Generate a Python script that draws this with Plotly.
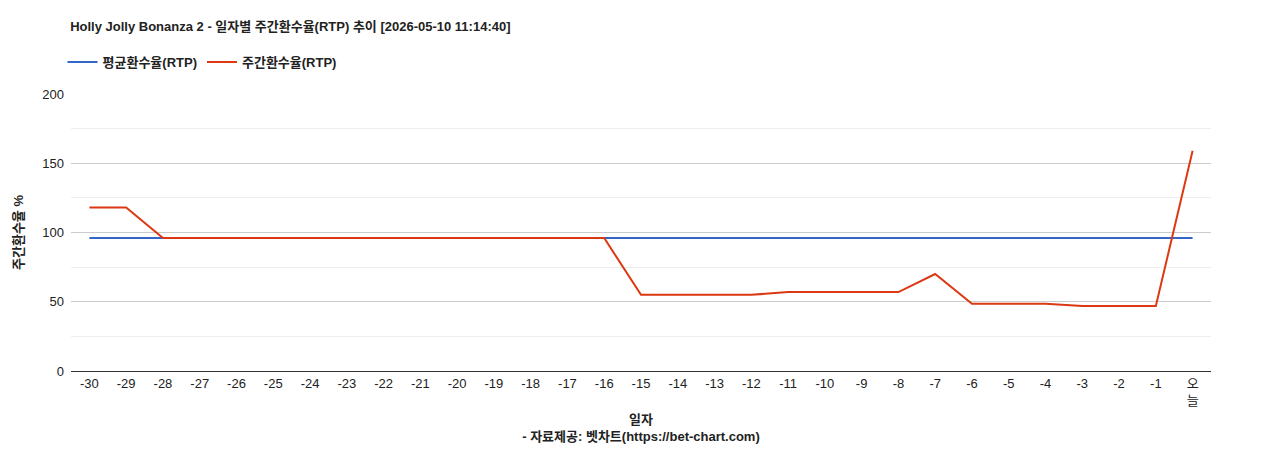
import plotly.graph_objects as go

days = [str(i) for i in range(-30, 0)] + ["오<br>늘"]
avg_rtp = [96] * 31
weekly_rtp = [118, 118, 96, 96, 96, 96, 96, 96, 96, 96, 96, 96, 96, 96, 96,
              55, 55, 55, 55, 57, 57, 57, 57, 70, 48.5, 48.5, 48.5, 47, 47, 47, 159]

fig = go.Figure()
fig.add_trace(go.Scatter(x=days, y=avg_rtp, mode="lines", name="<b>평균환수율(RTP)</b>",
                         line=dict(color="#3366cc", width=2)))
fig.add_trace(go.Scatter(x=days, y=weekly_rtp, mode="lines", name="<b>주간환수율(RTP)</b>",
                         line=dict(color="#dc3912", width=2)))
fig.update_layout(
    width=1268, height=450, plot_bgcolor="white", paper_bgcolor="white",
    font=dict(family="Liberation Sans, Arial, Noto Sans CJK KR", size=13, color="#222"),
    title=dict(text="<b>Holly Jolly Bonanza 2 - 일자별 주간환수율(RTP) 추이 [2026-05-10 11:14:40]</b>",
               x=0.049, xanchor="left", y=0.97, yanchor="top", font=dict(size=13)),
    legend=dict(orientation="h", xref="container", x=0.043, xanchor="left",
                yref="container", y=0.88, yanchor="middle", font=dict(size=13)),
    margin=dict(l=63, r=65, t=86, b=87, autoexpand=False),
    showlegend=True,
)
fig.update_xaxes(title=dict(text="<b>일자</b><br><b>- 자료제공: 벳차트(https://bet-chart.com)</b>",
                            font=dict(size=13), standoff=8),
                 showline=True, linecolor="#333", showgrid=False, ticks="",
                 range=[-0.5, 30.5], tickfont=dict(size=13))
fig.update_yaxes(title=dict(text="<b>주간환수율 %</b>", font=dict(size=13)),
                 range=[0, 200], dtick=50, gridcolor="#ccc", zeroline=False,
                 minor=dict(dtick=25, showgrid=True, gridcolor="#eee"),
                 tickfont=dict(size=13), ticklabelstandoff=6)
fig.write_html("out.html")
